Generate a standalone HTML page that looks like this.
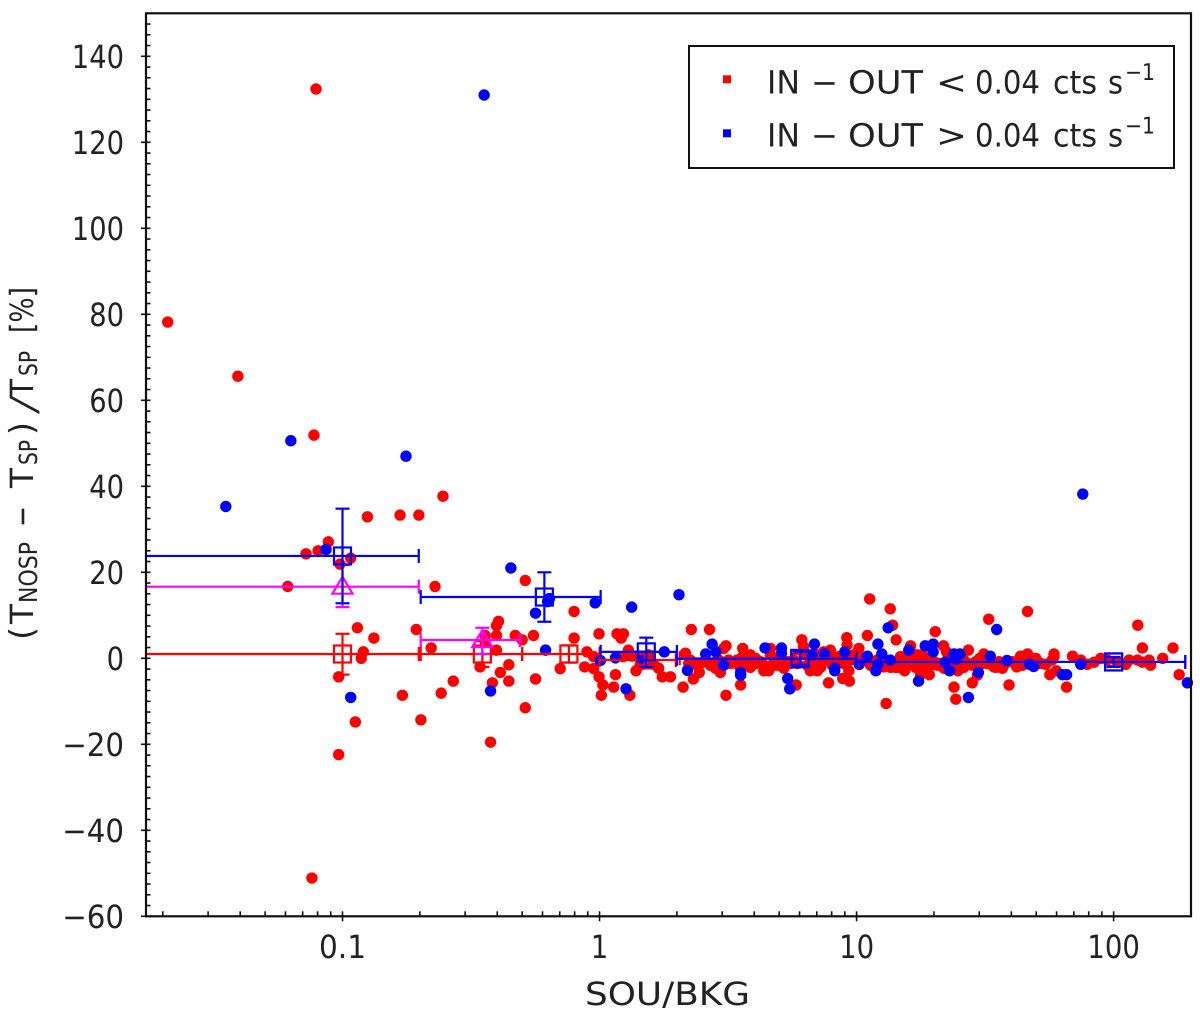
<!DOCTYPE html>
<html lang="en">
<head>
<meta charset="utf-8">
<title>Relative difference vs SOU/BKG</title>
<style>
html,body{margin:0;padding:0;background:#fff;}
svg{display:block;}
text{font-family:"DejaVu Sans","Liberation Sans",sans-serif;fill:#222222;text-rendering:geometricPrecision;}
</style>
</head>
<body>
<svg id="chart" xmlns="http://www.w3.org/2000/svg" width="1200" height="1018" viewBox="0 0 1200 1018">
  <rect x="0" y="0" width="1200" height="1018" fill="#ffffff"/>
  <g id="points-layer"></g>
  <g id="bins-layer"></g>
  <g id="axes-layer"></g>

  <g transform="translate(33,640) rotate(-90)">
    <text x="0" y="0" font-size="33" textLength="13" lengthAdjust="spacingAndGlyphs">(</text>
    <text x="16" y="0" font-size="32" textLength="20" lengthAdjust="spacingAndGlyphs">T</text>
    <text x="37" y="4" font-size="25" textLength="61" lengthAdjust="spacingAndGlyphs">NOSP</text>
    <text x="113" y="0" font-size="32" textLength="21" lengthAdjust="spacingAndGlyphs">−</text>
    <text x="152" y="0" font-size="32" textLength="20" lengthAdjust="spacingAndGlyphs">T</text>
    <text x="175" y="4" font-size="25" textLength="25" lengthAdjust="spacingAndGlyphs">SP</text>
    <text x="205" y="0" font-size="33" textLength="13" lengthAdjust="spacingAndGlyphs">)</text>
    <text transform="translate(226,6) skewX(-15)" font-size="40" style="font-family:'Liberation Sans',sans-serif">/</text>
    <text x="242" y="0" font-size="32" textLength="19" lengthAdjust="spacingAndGlyphs">T</text>
    <text x="264" y="4" font-size="25" textLength="25" lengthAdjust="spacingAndGlyphs">SP</text>
    <text x="307" y="0" font-size="32" textLength="46" lengthAdjust="spacingAndGlyphs">[%]</text>
  </g>

  <text x="585" y="1005" font-size="32" textLength="165" lengthAdjust="spacingAndGlyphs">SOU/BKG</text>

  <g>
    <rect x="689" y="46" width="485" height="122" fill="#ffffff" stroke="#111111" stroke-width="2"/>
    <g>
      <rect x="723" y="75.3" width="8" height="8" fill="#ff0000"/>
      <text x="767" y="93.3" font-size="32" textLength="33" lengthAdjust="spacingAndGlyphs">IN</text>
      <text x="811" y="93.3" font-size="32" textLength="27" lengthAdjust="spacingAndGlyphs">−</text>
      <text x="848" y="93.3" font-size="32" textLength="75" lengthAdjust="spacingAndGlyphs">OUT</text>
      <text x="936" y="93.3" font-size="32" textLength="31" lengthAdjust="spacingAndGlyphs">&lt;</text>
      <text x="975" y="93.3" font-size="32" textLength="65" lengthAdjust="spacingAndGlyphs">0.04</text>
      <text x="1053" y="93.3" font-size="32" textLength="44" lengthAdjust="spacingAndGlyphs">cts</text>
      <text x="1108" y="93.3" font-size="32" textLength="15" lengthAdjust="spacingAndGlyphs">s</text>
      <text x="1125" y="80" font-size="23" textLength="30" lengthAdjust="spacingAndGlyphs">−1</text>
    </g>
    <g>
      <rect x="723" y="129.3" width="8" height="8" fill="#0000ff"/>
      <text x="767" y="146.7" font-size="32" textLength="33" lengthAdjust="spacingAndGlyphs">IN</text>
      <text x="811" y="146.7" font-size="32" textLength="27" lengthAdjust="spacingAndGlyphs">−</text>
      <text x="848" y="146.7" font-size="32" textLength="75" lengthAdjust="spacingAndGlyphs">OUT</text>
      <text x="936" y="146.7" font-size="32" textLength="31" lengthAdjust="spacingAndGlyphs">&gt;</text>
      <text x="975" y="146.7" font-size="32" textLength="65" lengthAdjust="spacingAndGlyphs">0.04</text>
      <text x="1053" y="146.7" font-size="32" textLength="44" lengthAdjust="spacingAndGlyphs">cts</text>
      <text x="1108" y="146.7" font-size="32" textLength="15" lengthAdjust="spacingAndGlyphs">s</text>
      <text x="1125" y="133.4" font-size="23" textLength="30" lengthAdjust="spacingAndGlyphs">−1</text>
    </g>
  </g>
</svg>

<script>
// Axis ticks (x values are SOU/BKG, y values are percent)
const xTickValues = [0.1, 1, 10, 100];
const xTickLabels = ["0.1", "1", "10", "100"];
const xMinorTickValues = [0.02,0.03,0.04,0.05,0.06,0.07,0.08,0.09,0.2,0.3,0.4,0.5,0.6,0.7,0.8,0.9,2,3,4,5,6,7,8,9,20,30,40,50,60,70,80,90,200];
const yTickValues = [140, 120, 100, 80, 60, 40, 20, 0, -20, -40, -60];
const yTickLabels = ["140", "120", "100", "80", "60", "40", "20", "0", "−20", "−40", "−60"];
const yMinorStep = 2.5;
const xDomain = [0.0172, 200];
const yDomain = [-60, 150];

// Sources: [log10(SOU/BKG), (T_NOSP - T_SP)/T_SP in %]
const redPoints = [
[-1.680,78.2],[-1.407,65.6],[-1.103,132.4],[-1.111,51.9],[-1.119,-51.1],[-0.903,32.9],[-0.776,33.3],[-0.703,33.3],[-0.609,37.7],[-1.055,27.1],
[-1.095,25],[-1.142,24.3],[-0.968,23.3],[-1.010,21.9],[-1.213,16.7],[-0.640,16.7],[-0.289,18.1],[-0.099,10.9],[-0.942,7.1],[-0.878,4.7],
[-0.713,6.7],[-0.393,8.6],[-0.401,7.6],[-0.401,5.3],[-0.445,5.3],[-0.445,3.9],[-0.328,5.3],[-0.301,4.3],[-0.257,5.3],[-0.099,4.7],
[-0.002,5.7],[0.068,5.7],[0.093,5.7],[0.084,4.7],[-0.655,2.4],[-0.919,1.5],[-0.927,0],[-0.401,1.9],[-0.465,-2],[-0.353,-1.5],
[-0.386,-3.3],[-0.353,-5.3],[-0.417,-5.7],[-0.569,-5.3],[-0.616,-8.1],[-0.767,-8.6],[-1.015,-4.3],[-0.249,-4.8],[-0.289,-11.5],[-0.950,-14.8],
[-0.695,-14.3],[-1.015,-22.4],[-0.424,-19.5],[-0.153,-2.4],[-0.058,-2],[-0.049,1.5],[-0.023,0.4],[-0.023,-2.4],[-0.002,-4.3],[0.013,-6.2],
[0.007,-8.6],[0.055,-6.7],[0.062,-3.8],[0.118,-8.6],[0.142,-2.9],[0.244,-4.3],[0.276,-4.3],[0.230,-2.3],[0.325,-6.7],[0.357,6.7],
[0.428,6.7],[0.112,1.9],[0.092,0.4],[0.127,0.5],[0.158,-1.6],[0.209,-1.2],[0.190,0.8],[0.334,1.2],[0.365,-4.8],[0.388,-3.3],
[0.492,2.9],[0.483,2.3],[0.557,2.3],[0.492,-8.6],[0.549,-6.2],[0.470,-3.3],[0.451,-2.3],[0.639,-2.9],[0.658,-2.9],[0.717,-2.3],
[0.765,-6.2],[0.787,4.3],[0.820,-2.9],[0.847,-2.9],[0.891,-5.7],[0.946,-4.7],[0.972,-5.3],[0.962,4.8],[1.042,5.3],[0.970,-2.9],
[1.051,13.8],[1.131,11.5],[1.140,7.7],[1.154,4.3],[1.115,-10.5],[1.187,-2.9],[1.283,-3.8],[1.249,-3.8],[1.210,2.9],[1.338,2.9],
[1.350,1.5],[1.306,6.2],[1.435,1.9],[1.379,-6.7],[1.386,-9.5],[1.450,-5.7],[1.514,9.1],[1.665,10.9],[1.593,-6.2],[1.817,-6.7],
[2.094,7.7],[2.112,2.4],[2.231,2.4],[2.255,-3.8],[1.495,1],[1.479,0],[1.665,1],[1.638,0.5],[1.697,0],[1.768,1],
[1.768,0.4],[1.840,0.5],[1.872,-0.4],[1.736,-1.4],[1.777,-2.9],[1.752,-3.8],[1.567,-2.3],[1.623,-2],[1.534,-2],[1.470,-3.9],
[1.394,-2.9],[1.924,-0.9],[1.950,0],[1.898,-1.4],[2.047,-1.4],[2.060,-0.4],[2.093,-0.4],[2.138,-0.4],[2.144,-1.6],[2.112,-0.9],
[2.191,0],[1.976,-0.4],[2.015,-0.8],[0.557,0.4],[0.587,0.8],[0.665,2.3],[0.665,0.8],[0.613,-1.2],[0.639,-1.6],[0.541,-1.6],
[0.691,-1.6],[0.710,-1.8],[0.794,2.7],[0.794,1.2],[0.840,-0.4],[0.872,1.5],[0.898,1.9],[0.931,0.4],[0.963,3.1],[1.009,2.3],
[1.002,0.8],[1.106,-2],[1.139,-2],[1.164,-1.2],[0.347,-1.2],[0.392,-1.2],[0.451,-0.8],[0.755,-0.4],[0.502,-0.4],[0.574,-1.2],
[0.665,-2.1],[0.743,-1.2],[0.859,-1.6],[0.950,-1.2],[0.976,-0.4],[1.171,0.4],[1.145,-1.6],[1.164,-2.1],[1.236,0.8],[1.249,-0.4],
[1.275,0],[1.268,-2],[1.288,-1.6],[1.242,-1.2],[1.210,1.5],[1.340,-2.3],[1.392,-1.2],[1.431,-1.2],[1.509,-1.2],[1.541,-2.1],
[1.625,-1.2],[1.651,-0.4],[1.197,-1.2],[1.216,-0.4],[1.314,-1.6],[1.417,-2.1],[1.482,-0.4],[1.353,-0.4],
[0.353,-0.4],[0.379,-1.6],[0.412,-0.8],[0.431,-1.6],[0.464,-0.4],[0.477,-1.6],[0.509,-1.2],[0.535,-0.4],[0.561,-1.8],[0.587,-2.1],
[0.607,0],[0.626,-0.8],[0.645,-2.1],[0.671,-1.6],[0.684,-0.4],[0.730,-0.8],[0.769,-1.2],[0.808,-1.6],[0.827,-0.8],[0.834,-2.1],
[0.847,0.8],[0.860,-2.1],[0.886,-0.4],[0.905,-1.6],[0.918,0],[0.970,-0.4],[0.989,0.8],[1.028,-0.4],[1.054,-1.6],[1.080,-0.4],
[1.100,-1.6],[1.119,-0.8],[1.152,-2.1],[1.106,-1.6],[1.132,-2.1],[1.184,-0.4],[1.190,-1.8],[1.223,0],[1.229,-2.1],[1.255,0.8],
[1.262,-1.2],[1.281,-2.1],[1.301,-0.8],[1.320,-1.2],[1.366,-1.6],[1.372,-2.4],[1.405,-1.6],[1.417,-0.4],[1.450,-1.6],[1.463,-0.8],
[1.489,-1.2],[1.528,-1.6],[1.554,-0.8],[1.573,-1.6],[1.606,-0.8],[1.645,-1.6],[1.664,-0.8],[1.716,-1.2],[1.761,-0.4]
];
const bluePoints = [
[-1.454,35.3],[-1.201,50.6],[-0.753,47],[-0.449,131],[1.880,38.2],[-1.064,25.3],[-0.345,21],[-0.195,13.9],[-0.202,13.2],[-0.249,10.5],
[-0.017,12.9],[-0.210,1.9],[-0.968,-9.1],[-0.424,-7.6],[0.003,-0.5],[0.062,0.1],[0.125,11.9],[0.309,14.8],[0.165,0],[0.252,1.5],
[0.342,-2.8],[0.413,1],[0.438,3.3],[0.453,1.5],[0.483,-1.6],[0.549,-3.3],[0.549,-3.9],[0.644,2.4],[0.708,2.4],[0.708,1.2],
[0.732,-4.7],[0.740,-7.1],[0.103,-7.1],[0.836,3.3],[0.827,0.8],[0.876,1],[0.915,-2.3],[0.915,-2.9],[0.954,1.5],[1.010,-1.4],
[1.042,0.5],[1.083,3.3],[1.098,1],[1.083,-1.4],[1.075,-2.9],[1.123,7.1],[1.131,-0.4],[1.203,1.9],[1.267,2.9],[1.298,3.3],
[1.298,1.5],[1.241,-5.3],[1.345,-0.9],[1.362,-2.9],[1.379,1],[1.402,1],[1.386,-0.2],[1.474,-3.3],[1.435,-9.1],[1.520,0.5],
[1.545,6.7],[1.585,-0.5],[1.673,-1.4],[1.689,-1.9],[1.801,-3.8],[1.817,-3.8],[1.872,-1.4],[2.287,-5.7]
];

// Binned averages: centre, value, x range, y range
const redBinCenters = [0.1, 0.35, 0.76, 1.5, 6, 100];
const redBinValues = [1, 1, 1, -0.4, 0, -0.85];
const redBinLow = [0.0172, 0.2015, 0.5, 1, 2.05, 10.1];
const redBinHigh = [0.198, 0.5, 1, 1.98, 10, 190];
const redBinErrLow = [-3.8, -2, -1, -1.5, -1, -1.8];
const redBinErrHigh = [5.7, 4, 3, 1, 1, 0.1];

const magentaBinCenters = [0.1, 0.35];
const magentaBinValues = [16.65, 4.25];
const magentaBinLow = [0.0172, 0.2015];
const magentaBinHigh = [0.198, 0.49];
const magentaBinErrLow = [11.9, 1];
const magentaBinErrHigh = [21.7, 7.1];

const blueBinCenters = [0.1, 0.61, 1.52, 6.03, 100];
const blueBinValues = [23.8, 14.25, 1.5, -0.1, -0.85];
const blueBinLow = [0.0172, 0.2015, 1.01, 2, 10];
const blueBinHigh = [0.198, 1.01, 2, 10, 190];
const blueBinErrLow = [12.8, 8.5, -2, -1.5, -2];
const blueBinErrHigh = [34.8, 20, 4.8, 1.5, 0.3];

const SVGNS = "http://www.w3.org/2000/svg";
const plot = { left: 146, right: 1191, top: 13.3, bottom: 916.3 };
const xLogMin = Math.log10(xDomain[0]);
const xLogMax = Math.log10(xDomain[1]);

function xFromLog(lg) {
  return plot.left + (lg - xLogMin) / (xLogMax - xLogMin) * (plot.right - plot.left);
}
function xScale(v) {
  return xFromLog(Math.log10(v));
}
function yScale(v) {
  return plot.bottom - (v - yDomain[0]) / (yDomain[1] - yDomain[0]) * (plot.bottom - plot.top);
}
function make(tag, parent, attrs) {
  const el = document.createElementNS(SVGNS, tag);
  for (const k in attrs) el.setAttribute(k, attrs[k]);
  parent.appendChild(el);
  return el;
}

const pointsLayer = document.getElementById("points-layer");
const binsLayer = document.getElementById("bins-layer");
const axesLayer = document.getElementById("axes-layer");

function drawPoints(points, color, name) {
  points.forEach(function (p) {
    const c = make("circle", pointsLayer, { cx: xFromLog(p[0]), cy: yScale(p[1]), r: 5.7, fill: color });
    
    
  });
}
drawPoints(redPoints, "#ff0000", "red-source-point");
drawPoints(bluePoints, "#0000ff", "blue-source-point");

function drawBins(centers, values, low, high, errLow, errHigh, color, shape, name) {
  centers.forEach(function (center, i) {
    const g = make("g", binsLayer, { stroke: color, "stroke-width": 2.2, fill: "none" });
    
    
    const cx = xScale(center);
    const cy = yScale(values[i]);
    const xa = xScale(low[i]);
    const xb = xScale(high[i]);
    const ya = yScale(errLow[i]);
    const yb = yScale(errHigh[i]);
    make("line", g, { x1: xa, x2: xb, y1: cy, y2: cy });
    make("line", g, { x1: xb, x2: xb, y1: cy - 7, y2: cy + 7 });
    if (i > 0) make("line", g, { x1: xa, x2: xa, y1: cy - 7, y2: cy + 7 });
    make("line", g, { x1: cx, x2: cx, y1: ya, y2: yb });
    make("line", g, { x1: cx - 7, x2: cx + 7, y1: ya, y2: ya });
    make("line", g, { x1: cx - 7, x2: cx + 7, y1: yb, y2: yb });
    if (shape === "square") {
      make("rect", g, { x: cx - 8.5, y: cy - 8.5, width: 17, height: 17 });
    } else {
      make("polygon", g, { points: (cx - 10) + "," + (cy + 7) + " " + (cx + 10) + "," + (cy + 7) + " " + cx + "," + (cy - 10) });
    }
  });
}
drawBins(redBinCenters, redBinValues, redBinLow, redBinHigh, redBinErrLow, redBinErrHigh, "#ff0000", "square", "red-bin-average");
drawBins(magentaBinCenters, magentaBinValues, magentaBinLow, magentaBinHigh, magentaBinErrLow, magentaBinErrHigh, "#ff00ff", "triangle", "magenta-bin-average");
drawBins(blueBinCenters, blueBinValues, blueBinLow, blueBinHigh, blueBinErrLow, blueBinErrHigh, "#0000ff", "square", "blue-bin-average");

// Axes
const frame = make("rect", axesLayer, { x: plot.left, y: plot.top, width: plot.right - plot.left, height: plot.bottom - plot.top, fill: "none", stroke: "#111111", "stroke-width": 2.2 });



xMinorTickValues.forEach(function (v) {
  const x = xScale(v);
  const t = make("line", axesLayer, { x1: x, x2: x, y1: plot.bottom, y2: plot.bottom - 5, stroke: "#111111", "stroke-width": 1.6 });
  
  
});
xTickValues.forEach(function (v, i) {
  const x = xScale(v);
  const t = make("line", axesLayer, { x1: x, x2: x, y1: plot.bottom - 5, y2: plot.bottom + 5, stroke: "#111111", "stroke-width": 1.6 });
  
  
  const label = xTickLabels[i];
  const width = label === "0.1" ? 47 : label.length * 17.5;
  const txt = make("text", axesLayer, { x: x - width / 2, y: 958, "font-size": 32, textLength: width, lengthAdjust: "spacingAndGlyphs" });
  
  
  txt.textContent = label;
});

for (let v = yDomain[0]; v <= yDomain[1]; v += yMinorStep) {
  if (yTickValues.indexOf(v) !== -1 || v === yDomain[1]) continue;
  const y = yScale(v);
  const t = make("line", axesLayer, { x1: plot.left, x2: plot.left + 4.5, y1: y, y2: y, stroke: "#111111", "stroke-width": 1.6 });
  
  
}
yTickValues.forEach(function (v, i) {
  const y = yScale(v);
  const t = make("line", axesLayer, { x1: plot.left - 5, x2: plot.left + 4.5, y1: y, y2: y, stroke: "#111111", "stroke-width": 1.6 });
  
  
  const label = yTickLabels[i];
  const hasMinus = label.charAt(0) === "−";
  const digits = hasMinus ? label.length - 1 : label.length;
  const width = digits * 17.4 + (hasMinus ? 27 : 0);
  const txt = make("text", axesLayer, { x: 124 - width, y: y + 11.5, "font-size": 32, textLength: width, lengthAdjust: "spacingAndGlyphs" });
  
  
  txt.textContent = label;
});
</script>
</body>
</html>
